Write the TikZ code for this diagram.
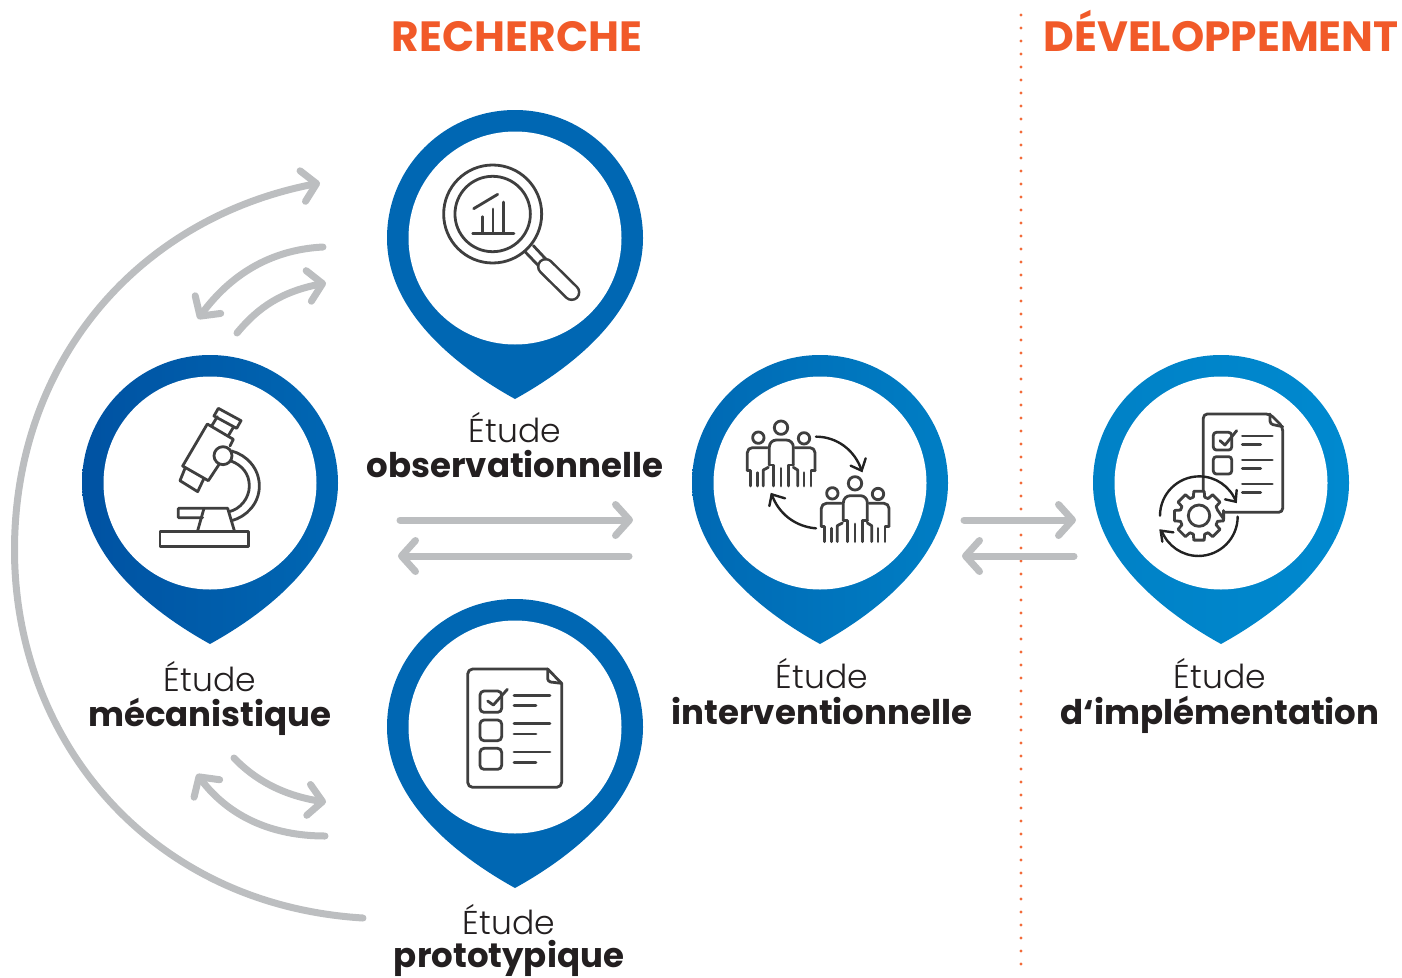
\documentclass[tikz,border=0pt]{standalone}
\usepackage{fontspec}
\setmainfont{Poppins}[UprightFont=* Light,BoldFont=* Bold]
\usetikzlibrary{arrows.meta,bending}
\definecolor{flow}{HTML}{BCBEC0}
\definecolor{ink}{HTML}{3F3F3F}
\definecolor{inkdark}{HTML}{222222}
\definecolor{accent}{HTML}{F15A29}
\definecolor{dots}{HTML}{F26B3A}
\definecolor{txt}{HTML}{231F20}
\definecolor{pinA}{HTML}{0067B3}
\definecolor{pinB}{HTML}{0052A2}
\definecolor{pinC}{HTML}{0069B4}
\definecolor{pinD}{HTML}{007EC4}
\definecolor{pinE}{HTML}{0081C6}
\definecolor{pinF}{HTML}{0089CF}
\tikzset{
  flowline/.style={draw=flow,line width=7pt,line cap=round,-{Straight Barb[length=14pt,width=31pt,round]}},
  iconline/.style={draw=ink,line width=2.8pt,line join=round,line cap=round},
  iconarrow/.style={draw=inkdark,line width=2.4pt,line cap=round,line join=miter},
  hole/.style={circle,fill=white,minimum size=213pt,inner sep=0pt},
  lighttext/.style={anchor=base,font=\fontsize{33}{33}\selectfont,text=txt,inner sep=0pt},
  boldtext/.style={anchor=base,font=\fontsize{34}{34}\selectfont\bfseries,text=txt,inner sep=0pt},
  headtext/.style={anchor=base,font=\fontsize{42.3}{42.3}\selectfont\bfseries,text=accent,inner sep=0pt},
}
\newcommand{\pinshape}[5]{% name cx cy left right
  \shade[left color=#4,right color=#5,shift={(#2,#3)}]
    (-128,0) arc[start angle=180,end angle=0,radius=128pt]
    .. controls (128,70) and (65,125) .. (0,161)
    .. controls (-65,125) and (-128,70) .. (-128,0) -- cycle;
  \node[hole] (#1) at (#2,#3) {};
}
\newcommand{\onegroup}{%
  \draw[iconline] (153,68) circle[radius=6.7pt];
  \draw[iconline] (85,98) circle[radius=5.7pt];
  \draw[iconline] (222,100) circle[radius=5.7pt];
  \draw[iconline,rounded corners=7pt] (118,180) -- (118,105) -- (190,105) -- (190,180);
  \draw[iconline] (118,180) -- (130,180) -- (130,243);
  \draw[iconline] (190,180) -- (175,180) -- (175,243);
  \draw[iconline] (153,190) -- (153,243);
  \draw[iconline,rounded corners=5pt] (112,128) -- (52,128) -- (52,197);
  \draw[iconline] (52,197) -- (62,197) -- (62,243);
  \draw[iconline] (82,203) -- (82,243);
  \draw[iconline] (100,243) -- (100,195) -- (115,187);
  \draw[iconline,rounded corners=5pt] (195,128) -- (255,128) -- (255,197);
  \draw[iconline] (255,197) -- (243,197) -- (243,243);
  \draw[iconline] (222,203) -- (222,243);
  \draw[iconline] (203,243) -- (203,195) -- (190,187);
}
\begin{document}
\begin{tikzpicture}[x=1pt,y=-1pt]
\useasboundingbox (0,0) rectangle (1402,977);
% phase divider
\coordinate (divtop) at (1021,15);
\coordinate (divbot) at (1021,970);
\draw[dots,line width=3.4pt,line cap=round,dash pattern=on 0pt off 13pt] (divtop) -- (divbot);
% titles
\node[headtext] (recherche) at (517,51) {RECHERCHE};
\node[headtext] (developpement) at (1221,51) {DÉVELOPPEMENT};
% pins
\pinshape{obs}{515}{238}{pinA}{pinA}
\pinshape{meca}{210}{483}{pinB}{pinA}
\pinshape{inter}{820}{483}{pinC}{pinD}
\pinshape{impl}{1221}{483}{pinE}{pinF}
\pinshape{proto}{515}{727}{pinA}{pinA}
% labels
\node[lighttext] (l1a) at (515,442) {Étude};
\node[boldtext] (l1b) at (515,477) {observationnelle};
\node[lighttext] (l2a) at (210,691) {Étude};
\node[boldtext] (l2b) at (210,726) {mécanistique};
\node[lighttext] (l3a) at (822,688) {Étude};
\node[boldtext] (l3b) at (822,724) {interventionnelle};
\node[lighttext] (l4a) at (1220,688) {Étude};
\node[boldtext] (l4b) at (1220,724) {d‘implémentation};
\node[lighttext] (l5a) at (509,934) {Étude};
\node[boldtext] (l5b) at (509,967) {prototypique};
% connector ends
\coordinate (a1s) at (363,918); \coordinate (a1m) at (14.5,550); \coordinate (a1e) at (320,183);
\coordinate (a2s) at (323,247); \coordinate (a2e) at (198,319);
\coordinate (a3s) at (237,333); \coordinate (a3e) at (326,283);
\coordinate (a4s) at (234,758); \coordinate (a4e) at (326,802);
\coordinate (a5s) at (325,836); \coordinate (a5e) at (197,774);
\coordinate (a6s) at (400,520); \coordinate (a6e) at (633,520);
\coordinate (a7s) at (629,556); \coordinate (a7e) at (398,556);
\coordinate (a8s) at (964,520); \coordinate (a8e) at (1076,520);
\coordinate (a9s) at (1074,556); \coordinate (a9e) at (962,556);
\draw[flowline] (a1s) .. controls (150,905) and (14.5,740) .. (a1m) .. controls (14.5,360) and (140,215) .. (a1e);
\draw[flowline] (a2s) .. controls (265,250) and (225,280) .. (a2e);
\draw[flowline] (a3s) .. controls (260,305) and (285,290) .. (a3e);
\draw[flowline] (a4s) .. controls (255,780) and (285,797) .. (a4e);
\draw[flowline] (a5s) .. controls (270,836) and (225,815) .. (a5e);
\draw[flowline] (a6s) -- (a6e);
\draw[flowline] (a7s) -- (a7e);
\draw[flowline] (a8s) -- (a8e);
\draw[flowline] (a9s) -- (a9e);
% magnifier icon
\begin{scope}[shift={(400,130)},x=0.33333pt,y=-0.33333pt]
  \draw[iconline] (278,252) circle[radius=49pt];
  \draw[iconline] (278,252) circle[radius=37.7pt];
  \draw[iconline] (218,310) -- (342,310);
  \draw[iconline] (247,310) -- (247,260);
  \draw[iconline] (279,310) -- (279,237);
  \draw[iconline] (311,310) -- (311,216);
  \draw[iconline] (221,236) -- (293,193);
  \draw[iconline] (400,347) -- (442,392);
  \draw[iconline] (375,365) -- (418,410);
  \draw[draw=ink,line width=17.5pt,line cap=round] (437,410) -- (515,487);
  \draw[draw=white,line width=12.3pt,line cap=round] (437,410) -- (515,487);
\end{scope}
% microscope icon
\begin{scope}[shift={(130,390)},x=0.33333pt,y=-0.33333pt]
  \draw[iconline] (265,55) -- (333,92) -- (320,115) -- (252,78) -- cycle;
  \draw[iconline] (262,80) -- (245,108);
  \draw[iconline] (310,112) -- (295,137);
  \draw[iconline] (300,168) -- (310,148) -- (232,102) -- (158,228) -- (235,272) -- (268,222);
  \draw[iconline] (165,235) -- (150,272) -- (203,305) -- (222,265);
  \fill[white] (279,197) circle[radius=9pt];
  \draw[iconline] (279,197) circle[radius=9pt];
  \draw[iconline] (305,183) .. controls (350,195) and (388,235) .. (388,288) .. controls (388,340) and (350,380) .. (305,392);
  \draw[iconline] (303,213) .. controls (335,225) and (358,250) .. (358,288) .. controls (358,325) and (330,358) .. (297,365);
  \draw[iconline] (218,383) -- (145,383) -- (145,355) -- (293,355) -- (313,422);
  \draw[iconline] (222,355) -- (203,422);
  \draw[iconline] (90,424) rectangle (355,470);
\end{scope}
% people icon
\begin{scope}[shift={(730,405)},x=0.33333pt,y=-0.33333pt]
  \onegroup
  \begin{scope}[shift={(222,167)}]\onegroup\end{scope}
  \draw[iconarrow] (258,95) .. controls (320,95) and (375,135) .. (395,197);
  \draw[iconarrow] (362,182) -- (395,197) -- (407,160);
  \draw[iconarrow] (258,370) .. controls (195,365) and (145,325) .. (125,268);
  \draw[iconarrow] (118,303) -- (125,268) -- (165,280);
\end{scope}
% implementation icon
\begin{scope}[shift={(1140,400)},x=0.33333pt,y=-0.33333pt]
  \draw[iconline,rounded corners=4pt] (190,285) -- (190,42) -- (390,42) -- (428,80) -- (428,337) -- (245,337);
  \draw[iconline,rounded corners=3pt] (390,42) -- (390,72) -- (428,80);
  \draw[iconline,rounded corners=3pt] (220,97) rectangle (275,150);
  \draw[iconline] (240,122) -- (255,135) -- (290,92);
  \draw[iconline,rounded corners=3pt] (220,170) rectangle (275,222);
  \foreach \yy/\xx in {108/397,133/362,180/397,205/362,252/397,277/362}
    \draw[iconline] (307,\yy) -- (\xx,\yy);
  \begin{scope}[shift={(177,347)}]
    \fill[white] (0,0) circle[radius=25pt];
    \draw[iconline] (0,0) circle[radius=10.7pt];
    \draw[iconline] ({75*cos(8)},{75*sin(8)})
      \foreach \k in {0,...,7} {
        -- ({75*cos(45*\k-12)},{75*sin(45*\k-12)}) -- ({75*cos(45*\k+12)},{75*sin(45*\k+12)})
        -- ({58*cos(45*\k+17)},{58*sin(45*\k+17)}) -- ({58*cos(45*\k+28)},{58*sin(45*\k+28)})
      } -- cycle;
  \end{scope}
  \draw[iconarrow] (60,347) arc[start angle=180,end angle=21,radius=39.3pt];
  \draw[iconarrow] (255,298) -- (287,305) -- (290,270);
  \draw[iconarrow] (293,350) arc[start angle=0,end angle=-159,radius=39.3pt];
  \draw[iconarrow] (100,397) -- (62,392) -- (67,425);
\end{scope}
% checklist icon
\begin{scope}[shift={(450,655)},x=0.33333pt,y=-0.33333pt]
  \draw[iconline,rounded corners=5pt] (293,42) -- (53,42) -- (53,397) -- (335,397) -- (335,85);
  \draw[iconline] (293,42) -- (335,85);
  \draw[iconline,rounded corners=3pt] (293,42) -- (293,80) -- (335,85);
  \draw[iconline,rounded corners=4pt] (90,108) rectangle (155,172);
  \draw[iconline,rounded corners=4pt] (90,195) rectangle (155,257);
  \draw[iconline,rounded corners=4pt] (90,280) rectangle (155,343);
  \draw[iconline] (113,138) -- (130,150) -- (172,103);
  \foreach \yy/\xx in {121/300,152/258,206/300,237/258,291/300,322/258}
    \draw[iconline] (192,\yy) -- (\xx,\yy);
\end{scope}
\end{tikzpicture}
\end{document}
